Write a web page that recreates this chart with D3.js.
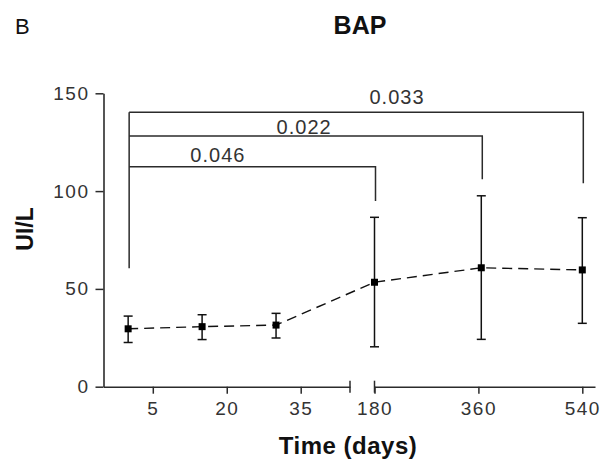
<!DOCTYPE html>
<html>
<head>
<meta charset="utf-8">
<script src="https://cdn.jsdelivr.net/npm/d3@7/dist/d3.min.js"></script>
<style>
  html, body { margin: 0; padding: 0; background: #fff; }
  svg { display: block; font-family: "Liberation Sans", Arial, sans-serif; }
</style>
</head>
<body>
<svg id="chart" width="606" height="464"></svg>
<script>
// Sampling times (days) and BAP measurements (UI/L)
const days = [0, 15, 30, 180, 365, 540];
const meanBAP = [29.6, 30.7, 31.5, 53.4, 60.8, 59.7];
const upperBAP = [36.1, 36.8, 37.5, 86.6, 97.6, 86.4];
const lowerBAP = [22.6, 24.1, 24.9, 20.4, 24.2, 32.4];

// Tick values
const yTicks = [0, 50, 100, 150];
const xTicksEarly = [5, 20, 35];
const xTicksLate = [180, 360, 540];

// Pairwise comparisons against day 0
const cmpTo = [180, 365, 540];
const cmpP = ["0.046", "0.022", "0.033"];
const cmpLevel = [112.5, 128.2, 140.3];
const cmpLegEnd = [95, 106, 104];
const cmpLabelDay = [18.2, 35.7, 219];
const cmpLabelY = [115, 129.1, 144.5];
const cmpStartLegEnd = 60.5;

const svg = d3.select("#chart");
const ink = "#2b2b2b";

// Broken x axis: early segment and late segment
const xEarly = d3.scaleLinear().domain([-5, 45]).range([103.5, 350]);
const xLate = d3.scaleLinear().domain([180, 562]).range([374.5, 595]);
const x = d => d <= 45 ? xEarly(d) : xLate(d);
const y = d3.scaleLinear().domain([0, 150]).range([386.7, 93.3]);

// Titles
svg.append("text").attr("x", 15).attr("y", 34)
  .attr("font-size", 22).attr("fill", "#111").text("B");
svg.append("text").attr("x", 360).attr("y", 34).attr("text-anchor", "middle")
  .attr("font-size", 25).attr("font-weight", "bold").attr("fill", "#111").text("BAP");

// Y axis
const gy = svg.append("g").attr("transform", `translate(${xEarly.range()[0]},0)`)
  .call(d3.axisLeft(y).tickValues(yTicks).tickSize(8).tickSizeOuter(0).tickPadding(6));
// X axis pieces
const y0 = y(0);
const gxa = svg.append("g").attr("transform", `translate(0,${y0})`)
  .call(d3.axisBottom(xEarly).tickValues(xTicksEarly).tickSize(7).tickSizeOuter(0).tickPadding(8));
const gxb = svg.append("g").attr("transform", `translate(0,${y0})`)
  .call(d3.axisBottom(xLate).tickValues(xTicksLate).tickSize(7).tickSizeOuter(0).tickPadding(8));

[gy, gxa, gxb].forEach(g => {
  g.select(".domain").attr("stroke", ink).attr("stroke-width", 1.6);
  g.selectAll(".tick line").attr("stroke", ink).attr("stroke-width", 1.5);
  g.selectAll(".tick text").attr("font-size", 19).attr("fill", "#333")
    .attr("font-family", "Liberation Sans, Arial, sans-serif")
    .style("letter-spacing", "1.5px");
});

// Break marks at the ends of the two x segments
svg.append("g").selectAll("line").data([xEarly(45), xLate(180)]).join("line")
  .attr("x1", d => d).attr("x2", d => d)
  .attr("y1", y0 - 6).attr("y2", y0 + 6)
  .attr("stroke", ink).attr("stroke-width", 1.5);

// Comparison brackets
const gb = svg.append("g").attr("fill", "none").attr("stroke", ink).attr("stroke-width", 1.5);
gb.append("line")
  .attr("x1", x(0) + 1).attr("x2", x(0) + 1)
  .attr("y1", y(d3.max(cmpLevel))).attr("y2", y(cmpStartLegEnd));
cmpTo.forEach((t, i) => {
  gb.append("path").attr("d", d3.line()([
    [x(0) + 1, y(cmpLevel[i])],
    [x(t) + 1, y(cmpLevel[i])],
    [x(t) + 1, y(cmpLegEnd[i])]
  ]));
  svg.append("text")
    .attr("x", x(cmpLabelDay[i])).attr("y", y(cmpLabelY[i]))
    .attr("text-anchor", "middle").attr("font-size", 20).attr("fill", "#333")
    .style("letter-spacing", "1px")
    .text(cmpP[i]);
});

// Mean trend line
const pts = days.map((d, i) => [x(d), y(meanBAP[i])]);
svg.append("path").attr("d", d3.line()(pts))
  .attr("fill", "none").attr("stroke", "#111").attr("stroke-width", 1.4)
  .attr("stroke-dasharray", "10,6");

// Error bars
const ge = svg.append("g").attr("stroke", "#111").attr("stroke-width", 1.5);
days.forEach((d, i) => {
  const cx = x(d);
  ge.append("line").attr("x1", cx).attr("x2", cx)
    .attr("y1", y(upperBAP[i])).attr("y2", y(lowerBAP[i]));
  [upperBAP[i], lowerBAP[i]].forEach(v => {
    ge.append("line").attr("x1", cx - 4.5).attr("x2", cx + 4.5)
      .attr("y1", y(v)).attr("y2", y(v));
  });
});

// Mean markers
svg.append("g").selectAll("rect").data(days).join("rect")
  .attr("x", d => x(d) - 3.5).attr("y", (d, i) => y(meanBAP[i]) - 3.5)
  .attr("width", 7).attr("height", 7).attr("fill", "#000");

// Axis titles
svg.append("text").attr("x", 348).attr("y", 454).attr("text-anchor", "middle")
  .attr("font-size", 24).attr("font-weight", "bold").attr("fill", "#111")
  .style("letter-spacing", "0.5px").text("Time (days)");
svg.append("text").attr("transform", "translate(33,229) rotate(-90)")
  .attr("text-anchor", "middle")
  .attr("font-size", 23).attr("font-weight", "bold").attr("fill", "#111").text("UI/L");
</script>
</body>
</html>
